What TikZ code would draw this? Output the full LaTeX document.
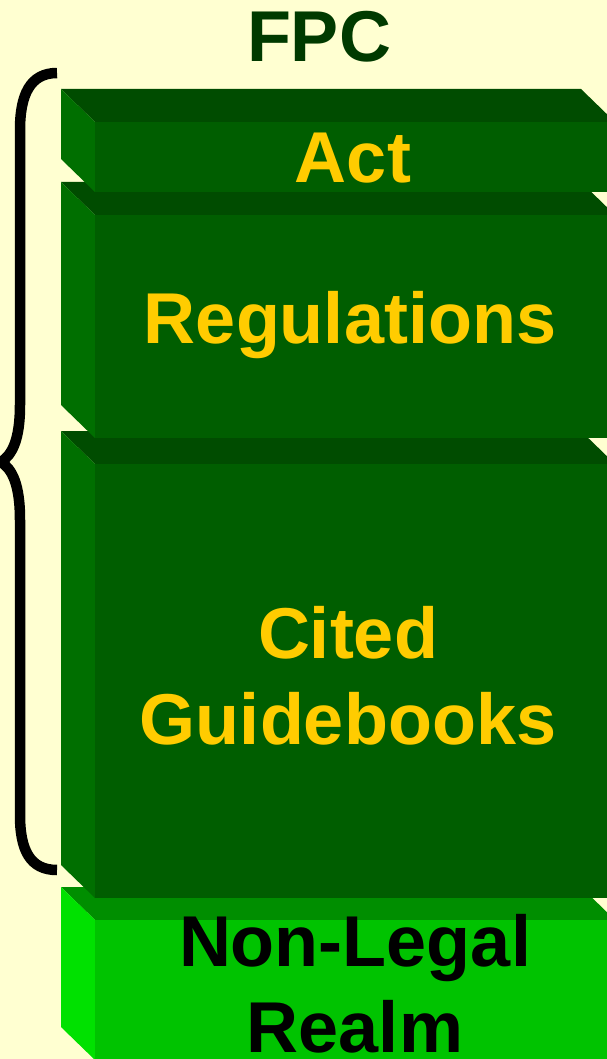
\documentclass[tikz,border=0pt]{standalone}
\usepackage{fontspec}
\setmainfont{Liberation Sans}

\begin{document}
\begin{tikzpicture}[x=1pt, y=-1pt]

    % Colours of the slide
    \definecolor{paper}{RGB}{255,255,209}
    \definecolor{titlecol}{RGB}{0,58,0}
    \definecolor{gold}{RGB}{255,204,0}
    \definecolor{darktop}{RGB}{0,76,0}
    \definecolor{darkfront}{RGB}{0,94,0}
    \definecolor{darkside}{RGB}{0,111,0}
    \definecolor{lighttop}{RGB}{0,142,0}
    \definecolor{lightfront}{RGB}{0,195,0}
    \definecolor{lightside}{RGB}{0,225,0}

    % Common text style
    \tikzset{
        biglabel/.style={font=\fontsize{72}{86}\selectfont\bfseries,
            align=center, inner sep=0pt},
        slablabel/.style={biglabel, text=gold},
        bracestyle/.style={line width=10.5pt, line cap=butt, black}
    }

    \useasboundingbox (0,0) rectangle (607,1059);
    \clip (0,0) rectangle (607,1059);
    \fill[paper] (0,0) rectangle (607,1059);

    % ================== Stacked slabs (bottom first) ==================
    \foreach \t/\h/\ctop/\cfront/\cside in {
        887/173/lighttop/lightfront/lightside,
        431/467/darktop/darkfront/darkside,
        182/256/darktop/darkfront/darkside,
        89/103/darktop/darkfront/darkside}{
        \begin{scope}[shift={(0,\t)}]
            \fill[\ctop] (61,0) -- (581,0) -- (615,33) -- (95,33) -- cycle;
            \fill[\cside] (61,0) -- (95,33) -- (95,\h) -- (61,\h-33) -- cycle;
            \fill[\cfront] (95,33) rectangle (615,\h);
        \end{scope}
    }

    % ========================= Labels =========================
    \node[biglabel, text=titlecol, anchor=base] (fpc) at (319,62) {FPC};
    \node[slablabel, anchor=base] (act) at (353,183) {Act};
    \node[slablabel, anchor=base] (regs) at (350,343) {Regulations};
    \node[slablabel] (cited) at (348,676) {Cited\\Guidebooks};
    \node[biglabel, text=black] (nonlegal) at (355,984) {Non-Legal\\Realm};

    % ===================== Curly brace =====================
    \coordinate (bracetop) at (57,73);
    \coordinate (bracetip) at (1,462);
    \coordinate (bracebot) at (57,870);
    \draw[bracestyle] (bracetop) .. controls (30,73) and (20,95) .. (20,130)
        -- (20,405) .. controls (20,440) and (12,455) .. (bracetip)
        .. controls (12,469) and (20,484) .. (20,520)
        -- (20,815) .. controls (20,850) and (30,870) .. (bracebot);

\end{tikzpicture}
\end{document}
